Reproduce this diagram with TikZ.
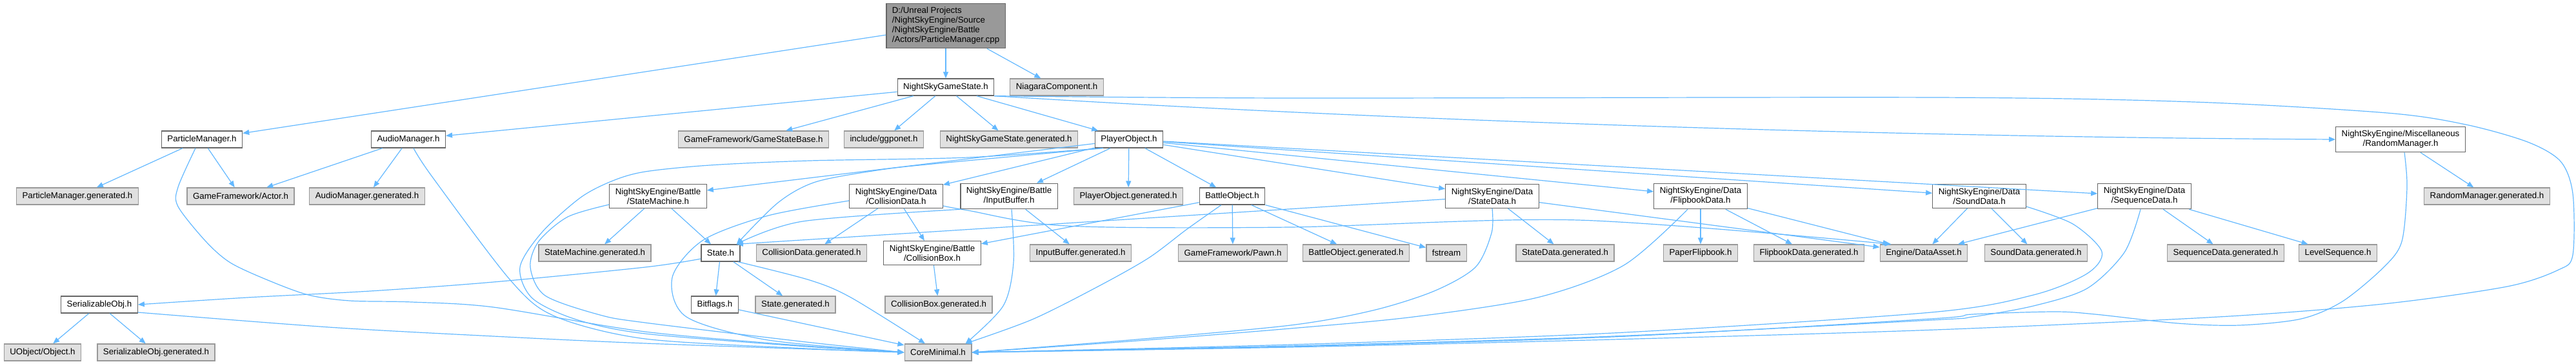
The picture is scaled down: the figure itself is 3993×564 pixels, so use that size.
\documentclass[tikz,border=0pt]{standalone}
\usepackage{fontspec}
\setmainfont{Liberation Sans}
\usepackage{xcolor}
\usepackage{tikz}
\usetikzlibrary{arrows.meta}
\definecolor{incblue}{HTML}{63B8FF}
\definecolor{rootfill}{HTML}{999999}
\definecolor{extfill}{HTML}{E0E0E0}
\definecolor{boxline}{HTML}{666666}
\definecolor{extline}{HTML}{999999}

\begin{document}
\begin{tikzpicture}[
  x=1pt, y=-1pt,
  box/.style={draw=boxline, fill=white, line width=1.3pt, align=center,
    font=\fontsize{13.3}{15}\selectfont, inner xsep=9pt, inner ysep=6pt, minimum height=26pt},
  extbox/.style={box, draw=extline, fill=extfill},
  srcbox/.style={box, fill=rootfill, align=left},
  inc/.style={-{Triangle[length=10pt,width=8pt]}, draw=incblue, line width=1.2pt}
]
\useasboundingbox (0,0) rectangle (3993,564);

\node[srcbox] (root) at (1466,40) {D:/Unreal Projects\\/NightSkyEngine/Source\\/NightSkyEngine/Battle\\/Actors/ParticleManager.cpp};

\node[box] (gamestate) at (1466,135) {NightSkyGameState.h};
\node[extbox] (niagara) at (1638,135) {NiagaraComponent.h};

\node[box] (particlemgr) at (313,216) {ParticleManager.h};
\node[box] (audiomgr) at (633,216) {AudioManager.h};
\node[extbox] (statebase) at (1168,216) {GameFramework/GameStateBase.h};
\node[extbox] (ggponet) at (1370,216) {include/ggponet.h};
\node[extbox] (gsgen) at (1564,216) {NightSkyGameState.generated.h};
\node[box] (playerobj) at (1750,216) {PlayerObject.h};
\node[box] (randommgr) at (3721,216) {NightSkyEngine/Miscellaneous\\/RandomManager.h};

\node[extbox] (pmgen) at (120,304) {ParticleManager.generated.h};
\node[extbox] (actor) at (373,304) {GameFramework/Actor.h};
\node[extbox] (audiogen) at (569,304) {AudioManager.generated.h};
\node[box] (statemachine) at (1020,304) {NightSkyEngine/Battle\\/StateMachine.h};
\node[box] (collisiondata) at (1389,304) {NightSkyEngine/Data\\/CollisionData.h};
\node[box] (inputbuffer) at (1564,304) {NightSkyEngine/Battle\\/InputBuffer.h};
\node[extbox] (pogen) at (1749,304) {PlayerObject.generated.h};
\node[box] (battleobj) at (1910,304) {BattleObject.h};
\node[box] (statedata) at (2313,304) {NightSkyEngine/Data\\/StateData.h};
\node[box] (flipbookdata) at (2636,304) {NightSkyEngine/Data\\/FlipbookData.h};
\node[box] (sounddata) at (3068,304) {NightSkyEngine/Data\\/SoundData.h};
\node[box] (sequencedata) at (3324,304) {NightSkyEngine/Data\\/SequenceData.h};
\node[extbox] (randomgen) at (3855,304) {RandomManager.generated.h};

\node[extbox] (smgen) at (922,392) {StateMachine.generated.h};
\node[box] (state) at (1117,392) {State.h};
\node[extbox] (cdgen) at (1258,392) {CollisionData.generated.h};
\node[box] (collisionbox) at (1445,392) {NightSkyEngine/Battle\\/CollisionBox.h};
\node[extbox] (ibgen) at (1675,392) {InputBuffer.generated.h};
\node[extbox] (pawn) at (1911,392) {GameFramework/Pawn.h};
\node[extbox] (bogen) at (2102,392) {BattleObject.generated.h};
\node[extbox] (fstream) at (2242,392) {fstream};
\node[extbox] (sdgen) at (2426,392) {StateData.generated.h};
\node[extbox] (paperflip) at (2636,392) {PaperFlipbook.h};
\node[extbox] (fbgen) at (2804,392) {FlipbookData.generated.h};
\node[extbox] (dataasset) at (2982,392) {Engine/DataAsset.h};
\node[extbox] (soundgen) at (3156,392) {SoundData.generated.h};
\node[extbox] (seqgen) at (3450,392) {SequenceData.generated.h};
\node[extbox] (levelseq) at (3624,392) {LevelSequence.h};

\node[box] (serial) at (154,472) {SerializableObj.h};
\node[box] (bitflags) at (1108,472) {Bitflags.h};
\node[extbox] (stategen) at (1233,472) {State.generated.h};
\node[extbox] (cbgen) at (1455,472) {CollisionBox.generated.h};

\node[extbox] (uobject) at (66,546) {UObject/Object.h};
\node[extbox] (serialgen) at (242,546) {SerializableObj.generated.h};
\node[extbox] (core) at (1454,546) {CoreMinimal.h};

\draw[inc] (root) -- (particlemgr);
\draw[inc] (root) -- (gamestate);
\draw[inc] (root) -- (niagara);

\draw[inc] (particlemgr) -- (pmgen);
\draw[inc] (particlemgr) -- (actor);
\draw[inc] plot[smooth] coordinates {([xshift=-10pt]particlemgr.south) (276,290) (276,320) (319,374) (357,407) (415,434) (478,457) (542,466) (638,468) (765,476) (1000,514) (1250,536) (core.west)};

\draw[inc] (audiomgr) -- (actor);
\draw[inc] (audiomgr) -- (audiogen);
\draw[inc] plot[smooth] coordinates {([xshift=8pt]audiomgr.south) (670,274) (791,434) (860,490) (1000,525) (1250,540) (core.west)};

\draw[inc] (gamestate) -- (audiomgr);
\draw[inc] (gamestate) -- (statebase);
\draw[inc] (gamestate) -- (ggponet);
\draw[inc] (gamestate) -- (gsgen);
\draw[inc] (gamestate) -- (playerobj);
\draw[inc] (gamestate.south east) .. controls (2200,190) and (3000,213) .. (randommgr.west);
\draw[inc] plot[smooth] coordinates {(gamestate.south east) (2000,152) (3000,151) (3400,158) (3700,175) (3822,193) (3918,220) (3969,250) (3988,300) (3988,395) (3966,418) (3886,444) (3694,471) (3439,491) (3000,511) (2500,526) (2000,538) (core.east)};

\draw[inc] (playerobj) -- (statemachine);
\draw[inc] plot[smooth] coordinates {([xshift=-42pt]playerobj.south) (1500,244) (1255,249) (1100,256) (1000,266) (950,280) (900,306) (840,360) (806,414) (825,462) (893,495) (1000,517) (1250,537) (core.west)};
\draw[inc] plot[smooth] coordinates {([xshift=-40pt]playerobj.south) (1446,254) (1359,264) (1264,282) (1206,314) ([xshift=-6pt]state.north east)};
\draw[inc] (playerobj) -- (collisiondata);
\draw[inc] (playerobj) -- (inputbuffer);
\draw[inc] (playerobj) -- (pogen);
\draw[inc] (playerobj) -- (battleobj);
\draw[inc] (playerobj) -- (statedata);
\draw[inc] (playerobj) -- (flipbookdata);
\draw[inc] (playerobj) -- (sounddata);
\draw[inc] (playerobj) -- (sequencedata);

\draw[inc] (statemachine) -- (smgen);
\draw[inc] (statemachine) -- (state);
\draw[inc] plot[smooth] coordinates {([yshift=-13pt]statemachine.west) (880,336) (835,374) (822,414) (845,458) (930,488) (1000,500) (1250,530) (core.west)};

\draw[inc] (collisiondata) -- (cdgen);
\draw[inc] (collisiondata) -- (collisionbox);
\draw[inc] plot[smooth] coordinates {([yshift=-7pt]collisiondata.west) (1191,334) (1090,372) (1042,430) (1064,491) (1191,527) (core.west)};
\draw[inc] plot[smooth] coordinates {([yshift=-15pt]collisiondata.east) (1500,326) (1653,350) (2000,352) (2446,341) ([xshift=18pt]dataasset.north west)};

\draw[inc] plot[smooth] coordinates {(inputbuffer.south west) (1244,343) ([xshift=-6pt]state.north east)};
\draw[inc] (inputbuffer) -- (ibgen);
\draw[inc] plot[smooth] coordinates {([xshift=4pt]inputbuffer.south) (1571,407) (1555,474) ([xshift=-10pt]core.north east)};

\draw[inc] (battleobj) -- (collisionbox);
\draw[inc] (battleobj) -- (pawn);
\draw[inc] (battleobj) -- (bogen);
\draw[inc] (battleobj) -- (fstream);
\draw[inc] plot[smooth] coordinates {([xshift=-17pt]battleobj.south) (1840,355) (1780,400) (1700,445) (1600,495) ([xshift=-10pt]core.north east)};

\draw[inc] (collisionbox) -- (cbgen);

\draw[inc] (statedata) -- ([xshift=-6pt]state.north east);
\draw[inc] (statedata) -- (sdgen);
\draw[inc] (statedata) -- (dataasset);
\draw[inc] plot[smooth] coordinates {(statedata.south) (2312,361) (2287,414) (2223,451) (2128,481) (2000,504) (1750,527) (core.east)};

\draw[inc] (flipbookdata) -- (paperflip);
\draw[inc] (flipbookdata) -- (fbgen);
\draw[inc] (flipbookdata) -- (dataasset);
\draw[inc] plot[smooth] coordinates {([xshift=-20pt]flipbookdata.south) (2517,411) (2383,461) (2191,491) (2000,509) (1750,529) (core.east)};

\draw[inc] (sounddata) -- (dataasset);
\draw[inc] (sounddata) -- (soundgen);
\draw[inc] plot[smooth] coordinates {([yshift=-16pt]sounddata.east) (3213,347) (3258,390) (3235,424) (3152,457) (2993,484) (2500,516) (2000,534) (core.east)};

\draw[inc] (sequencedata) -- (dataasset);
\draw[inc] (sequencedata) -- (seqgen);
\draw[inc] (sequencedata) -- (levelseq);
\draw[inc] plot[smooth] coordinates {([xshift=-6pt]sequencedata.south) (3293,391) (3235,447) (3152,474) (3057,491) (2993,496) (2500,521) (2000,536) (core.east)};

\draw[inc] (randommgr) -- (randomgen);
\draw[inc] plot[smooth] coordinates {([xshift=6pt]randommgr.south) (3731,290) (3723,374) (3695,414) (3631,467) (3567,494) (3471,504) (3376,501) (3248,487) (3184,483) (3057,487) (2993,494) (2500,522) (2000,537) (core.east)};

\draw[inc] plot[smooth] coordinates {([yshift=-9pt]state.west) (1000,414) (765,437) (574,451) (383,461) (serial.east)};
\draw[inc] (state) -- (bitflags);
\draw[inc] (state) -- (stategen);
\draw[inc] plot[smooth] coordinates {([xshift=-4pt]state.south east) (1255,434) (1319,461) ([xshift=-20pt]core.north)};

\draw[inc] (bitflags) -- (core);

\draw[inc] (serial) -- (uobject);
\draw[inc] (serial) -- (serialgen);
\draw[inc] plot[smooth] coordinates {([yshift=-12pt]serial.east) (510,507) (765,521) (1000,532) (core.west)};
\end{tikzpicture}
\end{document}
